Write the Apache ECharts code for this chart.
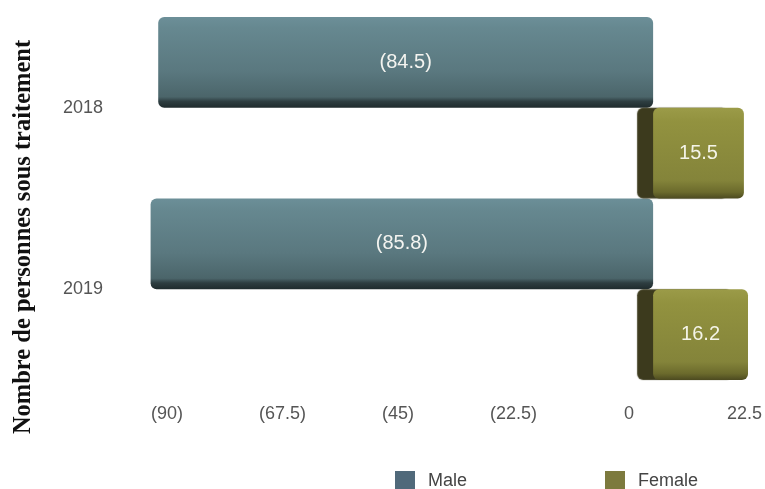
<!DOCTYPE html>
<html>
<head>
<meta charset="utf-8">
<script src="https://cdn.jsdelivr.net/npm/echarts@6/dist/echarts.min.js"></script>
<style>
html,body{margin:0;padding:0;background:#fff;}
#main{width:765px;height:489px;}
</style>
</head>
<body>
<div id="main"></div>
<script>
// ---- data ----
var years = ['2018', '2019'];
var maleValues = [-84.5, -85.8];
var femaleValues = [15.5, 16.2];
var seriesNames = ['Male', 'Female'];
var axisTitle = 'Nombre de personnes sous traitement';
var tickMin = -90, tickMax = 22.5, tickStep = 22.5;

function paren(v) {
  if (v < 0) return '(' + Math.round(Math.abs(v) * 10) / 10 + ')';
  return String(Math.round(v * 10) / 10);
}

var chart = echarts.init(document.getElementById('main'), null, {renderer: 'canvas'});

var maleGrad = new echarts.graphic.LinearGradient(0, 0, 0, 1, [
  {offset: 0, color: '#6c8f98'},
  {offset: 0.12, color: '#668890'},
  {offset: 0.6, color: '#5a787f'},
  {offset: 0.88, color: '#4b656a'},
  {offset: 0.93, color: '#2e3e41'},
  {offset: 1, color: '#1f2b2d'}
]);
var femaleGrad = new echarts.graphic.LinearGradient(0, 0, 0, 1, [
  {offset: 0, color: '#9b9b48'},
  {offset: 0.15, color: '#92923f'},
  {offset: 0.8, color: '#84843a'},
  {offset: 0.93, color: '#6b6a2c'},
  {offset: 1, color: '#4c4a20'}
]);

var option = {
  backgroundColor: '#ffffff',
  textStyle: {fontFamily: 'Liberation Sans, Arial, sans-serif'},
  animation: false,
  grid: {left: 167, right: 17, top: 17, bottom: 109, containLabel: false},
  legend: {
    data: [
      {name: 'Male', itemStyle: {color: '#50697a', shadowBlur: 0, shadowColor: 'transparent', shadowOffsetX: 0, borderRadius: 0}},
      {name: 'Female', itemStyle: {color: '#7d7a3e', shadowBlur: 0, shadowColor: 'transparent', shadowOffsetX: 0, borderRadius: 0}}
    ],
    icon: 'rect',
    left: 390,
    top: 466,
    itemWidth: 20,
    itemHeight: 20,
    itemGap: 138,
    textStyle: {fontSize: 18, color: '#444', padding: [0, 0, 0, 8]}
  },
  graphic: [{
    type: 'text',
    x: 24,
    y: 237,
    rotation: Math.PI / 2,
    style: {
      text: axisTitle,
      font: 'bold 24.5px "Liberation Serif", "Times New Roman", serif',
      fill: '#111',
      textAlign: 'center',
      textVerticalAlign: 'middle'
    }
  }],
  xAxis: [{
    type: 'value',
    min: tickMin,
    max: tickMax,
    interval: tickStep,
    axisLine: {show: false},
    axisTick: {show: false},
    splitLine: {show: false},
    axisLabel: {
      fontSize: 18,
      color: '#555',
      margin: 25,
      formatter: paren
    }
  }, {
    // perspective (front-face) scale of the 3D bars
    type: 'value',
    min: -83,
    max: 15.6,
    show: false,
    splitLine: {show: false}
  }],
  yAxis: {
    type: 'category',
    data: years,
    inverse: true,
    axisLine: {show: false},
    axisTick: {show: false},
    axisLabel: {fontSize: 18, color: '#555', margin: 64}
  },
  series: [{
    name: seriesNames[0],
    type: 'bar',
    xAxisIndex: 1,
    data: maleValues,
    barGap: '0%',
    barCategoryGap: '0%',
    clip: false,
    itemStyle: {color: maleGrad, borderRadius: 6},
    label: {
      show: true,
      position: 'inside',
      color: '#f4f4f0',
      fontSize: 20,
      formatter: function (p) { return paren(p.value); }
    }
  }, {
    name: seriesNames[1],
    type: 'bar',
    xAxisIndex: 1,
    data: femaleValues,
    barGap: '0%',
    barCategoryGap: '0%',
    clip: false,
    itemStyle: {
      color: femaleGrad,
      borderRadius: 6,
      shadowColor: '#3c3a1d',
      shadowBlur: 1,
      shadowOffsetX: -16,
      shadowOffsetY: 0
    },
    label: {
      show: true,
      position: 'inside',
      color: '#f4f4e8',
      fontSize: 20,
      formatter: function (p) { return paren(p.value); }
    }
  }]
};
chart.setOption(option);
</script>
</body>
</html>
